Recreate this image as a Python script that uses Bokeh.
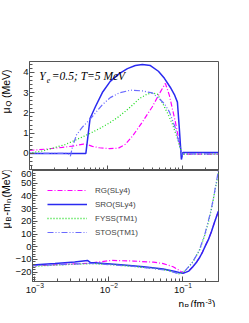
import numpy as np
from bokeh.plotting import figure
from bokeh.models import (Range1d, Label, Legend, LegendItem, FixedTicker,
                          SingleIntervalTicker)
from bokeh.layouts import column, row
from bokeh.embed import file_html
from bokeh.resources import INLINE

# ---------------- data ----------------
# upper panel: mu_Q (MeV) vs n_B (fm^-3)
rg_q_n = [9.27e-4, 1.61e-3, 2.54e-3, 3.45e-3, 4.83e-3, 5.64e-3, 6.37e-3, 7.88e-3, 1.07e-2,
          1.41e-2, 1.75e-2, 2.17e-2, 2.94e-2, 3.99e-2, 4.95e-2, 5.94e-2, 6.72e-2, 8.07e-2,
          9.40e-2, 0.100, 0.1064, 0.301]
rg_q = [0.15, 0.22, 0.30, 0.36, 0.46, 0.42, 0.35, 0.28, 0.24, 0.26, 0.45, 0.85, 1.55, 2.30,
        2.95, 3.45, 2.86, 1.55, 0.30, -0.10, -0.03, -0.03]

sro_q_n = [9.27e-4, 5.22e-3, 5.93e-3, 6.98e-3, 8.64e-3, 1.10e-2, 1.45e-2, 1.86e-2, 2.37e-2,
           2.94e-2, 3.76e-2, 4.80e-2, 5.77e-2, 6.93e-2, 7.83e-2, 8.59e-2, 9.12e-2, 9.70e-2,
           0.1016, 0.301]
sro_q = [0.0, 0.0, 1.72, 2.30, 3.00, 3.55, 3.93, 4.18, 4.33, 4.38, 4.33, 4.05, 3.70, 3.25,
         2.90, 2.53, 1.20, -0.30, 0.05, 0.05]

fyss_q_n = [9.27e-4, 1.38e-3, 2.05e-3, 2.70e-3, 4.02e-3, 5.81e-3, 8.13e-3, 1.07e-2, 1.41e-2,
            1.75e-2, 2.17e-2, 2.68e-2, 3.43e-2, 3.99e-2, 4.65e-2, 5.42e-2, 6.32e-2, 7.36e-2,
            8.59e-2, 9.70e-2, 0.1032, 0.301]
fyss_q = [0.02, 0.12, 0.30, 0.42, 0.70, 0.97, 1.25, 1.50, 1.80, 2.08, 2.38, 2.70, 2.93, 2.98,
          2.92, 2.50, 2.00, 1.45, 0.75, 0.06, -0.03, -0.03]

stos_q_n = [9.27e-4, 3.05e-3, 3.25e-3, 3.45e-3, 3.90e-3, 4.69e-3, 5.81e-3, 7.20e-3, 8.64e-3,
            1.10e-2, 1.45e-2, 2.04e-2, 2.94e-2, 3.99e-2, 4.95e-2, 5.77e-2, 6.72e-2, 8.07e-2,
            9.40e-2, 0.100, 0.1064, 0.301]
stos_q = [0.0, 0.0, -0.13, 0.30, 0.90, 1.30, 1.65, 2.05, 2.40, 2.75, 2.98, 3.12, 3.08, 2.98,
          2.69, 2.45, 2.05, 1.25, 0.25, -0.10, -0.02, -0.02]

# lower panel: mu_B - m_n (MeV) vs n_B
rg_b_n = [9.27e-4, 1.87e-3, 3.45e-3, 5.47e-3, 7.42e-3, 1.07e-2, 2.17e-2, 3.99e-2, 5.42e-2,
          7.36e-2, 9.40e-2, 0.1032, 0.120, 0.136, 0.1535, 0.168, 0.1845, 0.202, 0.222, 0.243,
          0.266, 0.301]
rg_b = [-15.0, -14.2, -13.5, -13.0, -12.0, -10.8, -11.3, -12.2, -13.3, -15.8, -19.5, -20.5,
        -19.0, -15.8, -12.0, -8.5, -4.0, 1.0, 6.0, 12.0, 19.0, 28.0]

sro_b_n = [9.27e-4, 1.87e-3, 3.45e-3, 5.14e-3, 5.64e-3, 8.64e-3, 1.59e-2, 2.94e-2, 5.42e-2,
           7.83e-2, 0.100, 0.120, 0.136, 0.1535, 0.168, 0.1845, 0.202, 0.222, 0.243, 0.266,
           0.301]
sro_b = [-14.5, -13.2, -12.0, -10.8, -12.5, -13.2, -14.5, -15.8, -17.5, -19.5, -21.0, -19.2,
         -15.8, -12.0, -8.5, -4.0, 1.0, 6.0, 12.0, 19.0, 28.0]

fyss_b_n = [9.27e-4, 1.87e-3, 3.45e-3, 6.37e-3, 1.17e-2, 2.17e-2, 3.99e-2, 6.32e-2, 9.12e-2,
            0.1096, 0.136, 0.168, 0.202, 0.222, 0.243, 0.266, 0.301]
fyss_b = [-15.5, -14.5, -13.8, -13.3, -14.2, -15.5, -17.0, -18.6, -21.5, -18.5, -12.0, -2.5,
          11.0, 20.0, 30.0, 42.0, 58.0]

stos_b_n = [9.27e-4, 1.87e-3, 3.45e-3, 5.47e-3, 1.17e-2, 2.17e-2, 3.99e-2, 6.32e-2, 8.86e-2,
            0.1064, 0.1317, 0.163, 0.196, 0.215, 0.236, 0.258, 0.301]
stos_b = [-15.0, -14.3, -13.6, -13.2, -14.3, -15.6, -17.2, -18.8, -21.3, -19.0, -13.0, -4.0,
          9.0, 18.0, 27.0, 38.0, 60.0]

names = ["RG(SLy4)", "SRO(SLy4)", "FYSS(TM1)", "STOS(TM1)"]
x_major = [1e-3, 1e-2, 1e-1]
x_minor = [m * d for d in (1e-3, 1e-2, 1e-1) for m in range(2, 10) if m * d < 0.31]

# ---------------- styles ----------------
styles = [
    dict(line_color="#ff00ff", line_width=1.2, line_dash="5 2 1 2"),
    dict(line_color="#2a2af0", line_width=1.5, line_dash="solid"),
    dict(line_color="#1fdc1f", line_width=1.3, line_dash="1 2"),
    dict(line_color="#6a6aff", line_width=1.2, line_dash="6 2 1 2 1 2"),
]
AX = "#555555"
FONT = "Liberation Sans"

xr = Range1d(9.3e-4, 0.302)

LW = 12          # width of the strip holding the y-axis titles
TOP_H = 170
BOT_H = 125
XT_H = 12


def style_axis(ax, labels=True):
    ax.major_tick_in = 5
    ax.major_tick_out = 0
    ax.minor_tick_in = 3
    ax.minor_tick_out = 0
    ax.axis_line_color = AX
    ax.major_tick_line_color = AX
    ax.minor_tick_line_color = AX
    ax.major_label_text_font = FONT
    ax.major_label_text_color = "#111111"
    if labels:
        ax.major_label_text_font_size = "9.5px"
        ax.major_label_standoff = 1
    else:
        ax.major_label_text_font_size = "1px"
        ax.major_label_text_alpha = 0
        ax.major_label_standoff = 0


def lab(p, x, y, text, size, angle=0.0, font=FONT, style="normal", baseline="alphabetic"):
    p.add_layout(Label(x=x, y=y, x_units="screen", y_units="screen", text=text,
                       angle=angle, text_font=font, text_font_size=f"{size}px",
                       text_font_style=style, text_align="left",
                       text_baseline=baseline, text_color="black"))


def text_strip(w, h):
    f = figure(width=w, height=h, x_range=Range1d(0, 1), y_range=Range1d(0, 1),
               output_backend="svg", toolbar_location=None, min_border=0,
               x_axis_location=None, y_axis_location=None)
    f.outline_line_color = None
    f.xgrid.visible = False
    f.ygrid.visible = False
    f.background_fill_color = "white"
    f.border_fill_color = "white"
    return f


common = dict(width=233 - LW, x_axis_type="log", x_range=xr, output_backend="svg",
              toolbar_location=None, min_border_left=17, min_border_right=15)

top = figure(height=TOP_H, y_range=Range1d(-0.84, 4.53), min_border_top=61,
             min_border_bottom=0, **common)
bot = figure(height=BOT_H, y_range=Range1d(-27.4, 60.0), min_border_top=0,
             min_border_bottom=13, **common)

for p in (top, bot):
    p.xgrid.visible = False
    p.ygrid.visible = False
    p.outline_line_color = AX
    p.outline_line_width = 1
    p.background_fill_color = "white"
    p.border_fill_color = "white"
    p.xaxis.ticker = FixedTicker(ticks=x_major, minor_ticks=x_minor)

style_axis(top.xaxis[0], labels=False)
style_axis(bot.xaxis[0], labels=True)
style_axis(top.yaxis[0])
style_axis(bot.yaxis[0])
top.yaxis.ticker = SingleIntervalTicker(interval=1, num_minor_ticks=5)
bot.yaxis.ticker = SingleIntervalTicker(interval=10, num_minor_ticks=5)

top_data = [(rg_q_n, rg_q), (sro_q_n, sro_q), (fyss_q_n, fyss_q), (stos_q_n, stos_q)]
bot_data = [(rg_b_n, rg_b), (sro_b_n, sro_b), (fyss_b_n, fyss_b), (stos_b_n, stos_b)]

for (xs, ys), st in zip(top_data, styles):
    top.line(xs, ys, **st)

items = []
for (xs, ys), st, nm in zip(bot_data, styles, names):
    r = bot.line(xs, ys, **st)
    items.append(LegendItem(label=nm, renderers=[r]))

leg = Legend(items=items, location=(15, 42), label_text_font=FONT,
             label_text_font_size="8px", glyph_width=40, glyph_height=14,
             label_height=14, spacing=0, padding=0, margin=0, label_standoff=8,
             border_line_alpha=0, background_fill_alpha=0)
bot.add_layout(leg)

# annotation in upper panel
lab(top, 9.7, 94.3, "Y", 11.5, font="Liberation Serif", style="italic")
lab(top, 17.3, 91.0, "e", 8, font="Liberation Serif", style="italic")
lab(top, 22.3, 94.3, "=0.5; T=5 MeV", 11.5, font="Liberation Serif", style="italic")

A = np.pi / 2
M = "middle"
# y axis title, upper panel: mu_Q (MeV)
lt = text_strip(LW, TOP_H)
lab(lt, 5.5, 57.0, "\u03bc", 10.5, angle=A, baseline=M)
lab(lt, 8.3, 64.0, "Q", 7.5, angle=A, baseline=M)
lab(lt, 5.5, 72.5, "(MeV)", 10.5, angle=A, baseline=M)

# y axis title, lower panel: mu_B - m_n (MeV)
lb = text_strip(LW, BOT_H)
lab(lb, 5.5, 53.0, "\u03bc", 10.5, angle=A, baseline=M)
lab(lb, 8.3, 60.0, "B", 7.5, angle=A, baseline=M)
lab(lb, 5.5, 66.0, "-m", 10.5, angle=A, baseline=M)
lab(lb, 8.3, 78.5, "n", 7.5, angle=A, baseline=M)
lab(lb, 5.5, 84.0, "(MeV)", 10.5, angle=A, baseline=M)

# x axis title: n_B (fm^-3)
xt = text_strip(233, XT_H)
lab(xt, 178.0, 2.6, "n", 10)
lab(xt, 184.0, 0.6, "B", 7)
lab(xt, 190.0, 2.6, "(fm", 10)
lab(xt, 205.0, 6.3, "-3", 7)
lab(xt, 211.5, 2.6, ")", 10)

layout = column(row(lt, top, spacing=0), row(lb, bot, spacing=0), xt, spacing=0)
open("out.html", "w").write(file_html(layout, INLINE))
